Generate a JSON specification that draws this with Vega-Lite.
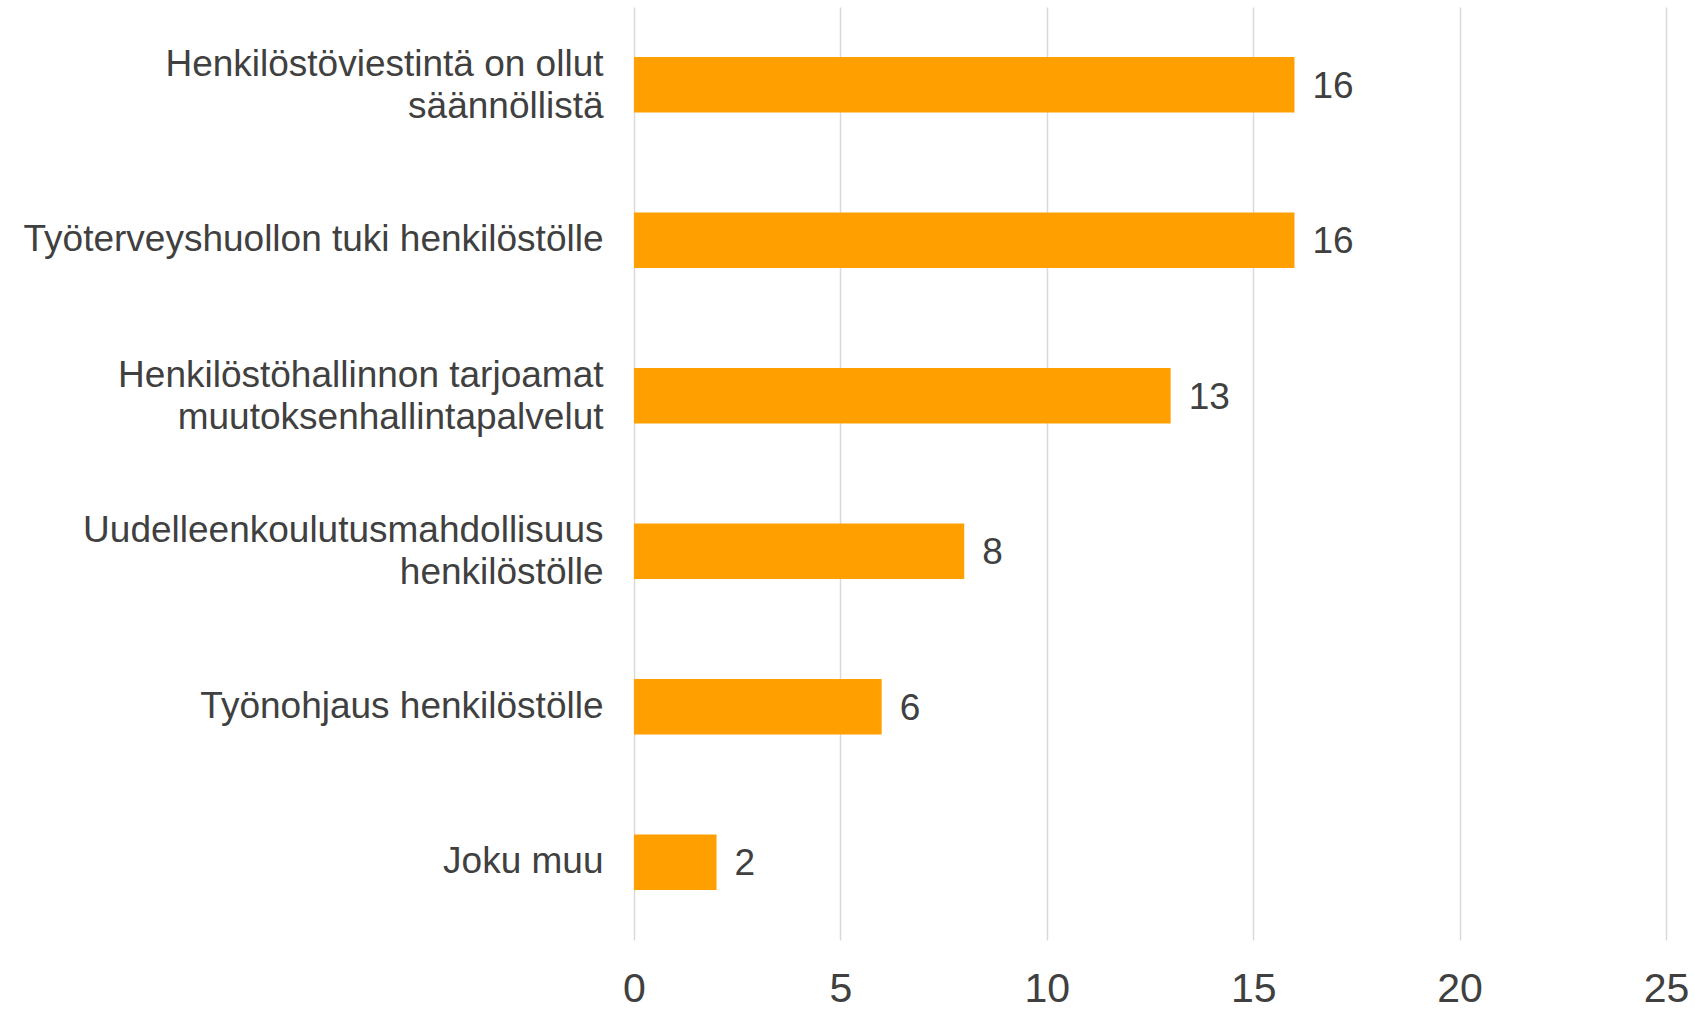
{
  "$schema": "https://vega.github.io/schema/vega-lite/v6.json",
  "width": 1032,
  "height": 933,
  "autosize": {"type": "none"},
  "padding": {"left": 634, "top": 7, "right": 29, "bottom": 70},
  "background": "white",
  "config": {
    "view": {"stroke": null},
    "font": "Liberation Sans"
  },
  "data": {
    "values": [
      {"kategoria": "Henkilöstöviestintä on ollut|säännöllistä", "arvo": 16},
      {"kategoria": "Työterveyshuollon tuki henkilöstölle", "arvo": 16},
      {"kategoria": "Henkilöstöhallinnon tarjoamat|muutoksenhallintapalvelut", "arvo": 13},
      {"kategoria": "Uudelleenkoulutusmahdollisuus|henkilöstölle", "arvo": 8},
      {"kategoria": "Työnohjaus henkilöstölle", "arvo": 6},
      {"kategoria": "Joku muu", "arvo": 2}
    ]
  },
  "encoding": {
    "y": {
      "field": "kategoria",
      "type": "nominal",
      "sort": null,
      "scale": {"paddingInner": 0.642, "paddingOuter": 0.321},
      "axis": {
        "title": null,
        "domain": false,
        "ticks": false,
        "labelPadding": 31,
        "labelFontSize": 37,
        "labelLineHeight": 42,
        "labelColor": "#404040",
        "labelLimit": 700,
        "labelExpr": "split(datum.label, '|')",
        "labelOffset": {"expr": "indexof(datum.value, '|') >= 0 ? -20 : 0"}
      }
    },
    "x": {
      "field": "arvo",
      "type": "quantitative",
      "scale": {"domain": [0, 25], "nice": false},
      "axis": {
        "title": null,
        "values": [0, 5, 10, 15, 20, 25],
        "domain": false,
        "ticks": false,
        "grid": true,
        "gridColor": "#D9D9D9",
        "gridWidth": 1.5,
        "labelFontSize": 41,
        "labelColor": "#404040",
        "labelPadding": 29,
        "labelFlush": false
      }
    }
  },
  "layer": [
    {"mark": {"type": "bar", "color": "#FFA000"}},
    {
      "mark": {"type": "text", "align": "left", "baseline": "middle", "dx": 18, "dy": 2, "fontSize": 37, "color": "#404040"},
      "encoding": {"text": {"field": "arvo", "type": "quantitative"}}
    }
  ]
}
